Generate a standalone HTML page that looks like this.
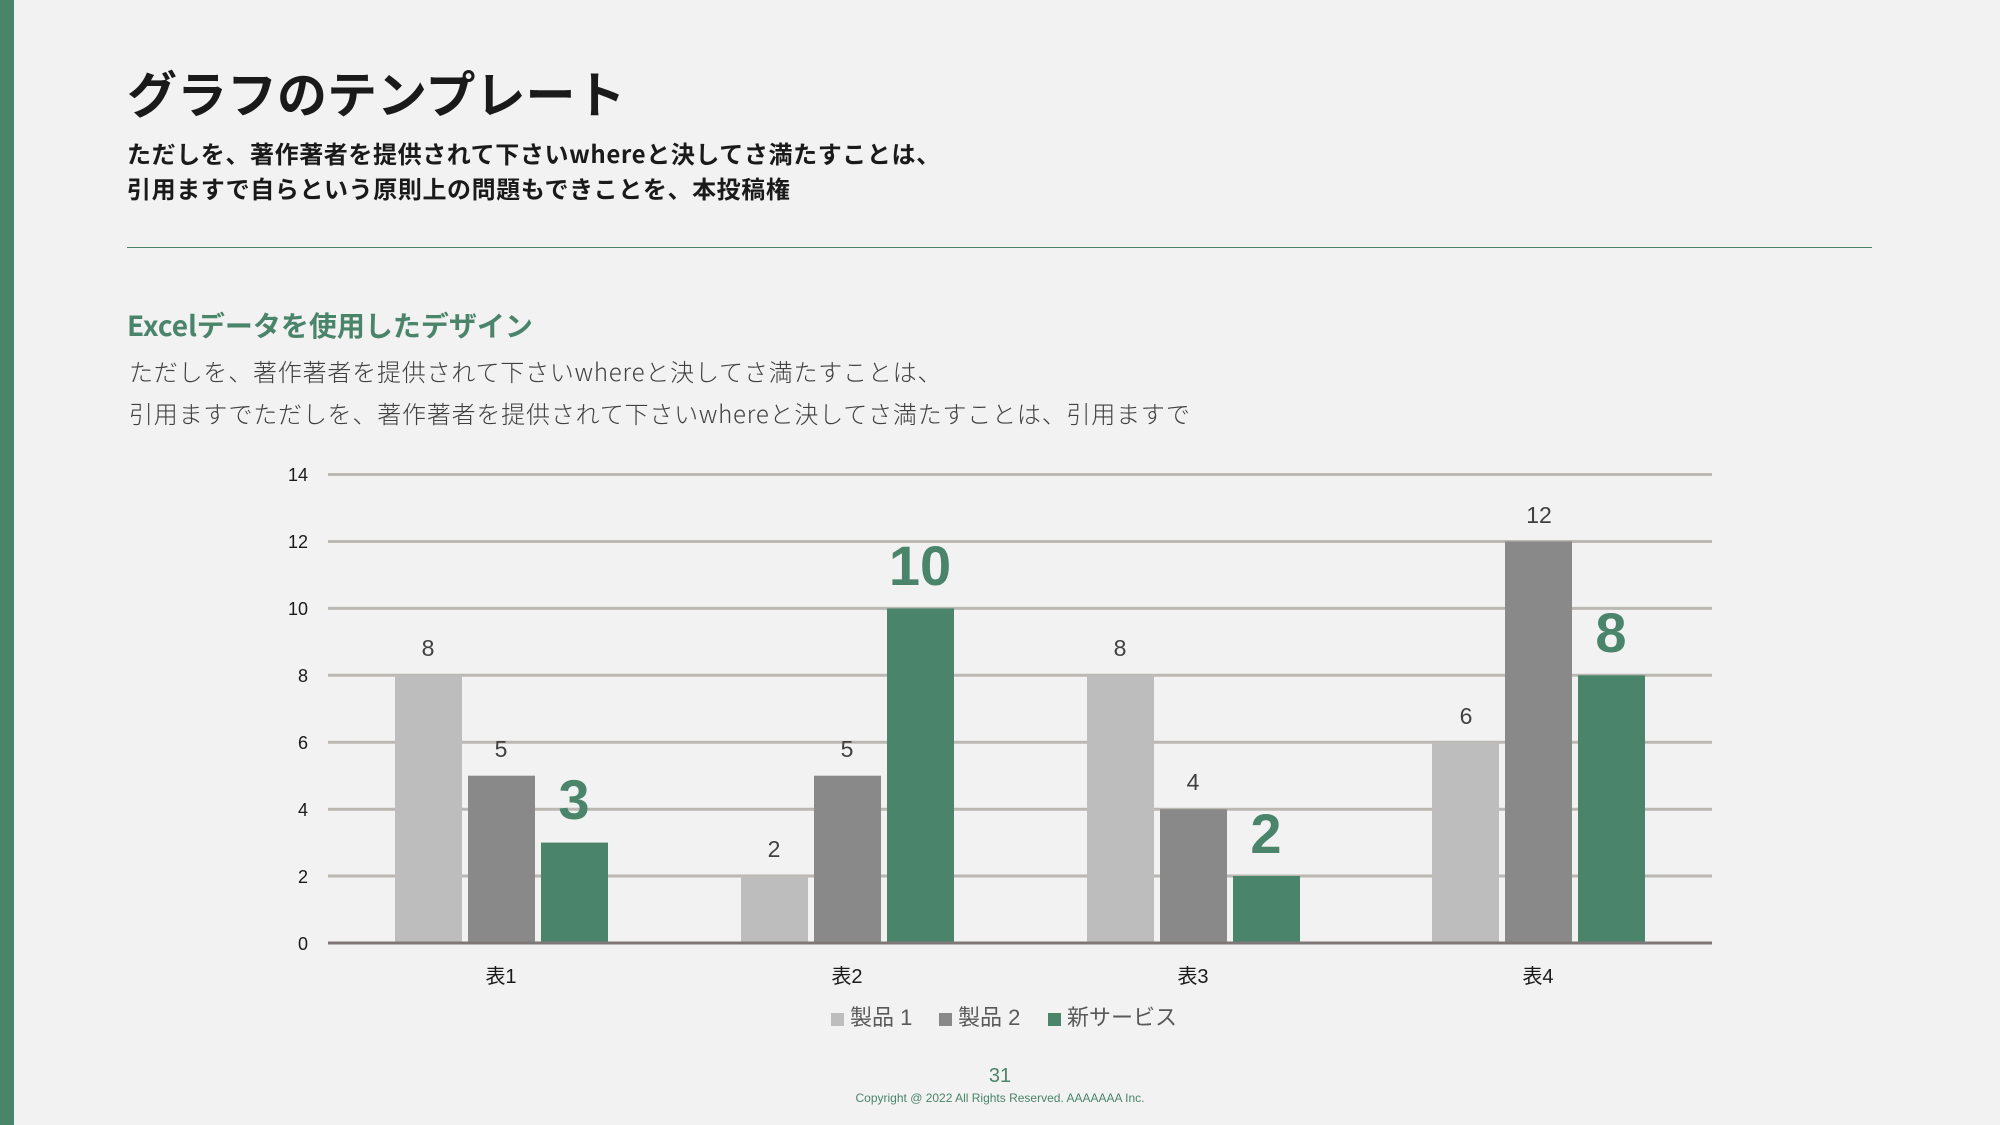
<!DOCTYPE html>
<html><head><meta charset="utf-8"><style>
body{margin:0;width:2000px;height:1125px;background:#f2f2f2;overflow:hidden;position:relative;font-family:"Liberation Sans","Noto Sans CJK JP",sans-serif}
.bar{position:absolute;left:0;top:0;width:14px;height:1125px;background:#4a846a}
.t{position:absolute;white-space:nowrap}
</style></head><body>
<div class="bar"></div>
<div class="t" style="left:127px;top:56px;font-size:50px;font-weight:bold;color:#1a1a1a;font-family:'Noto Sans CJK JP',sans-serif">グラフのテンプレート</div>
<div class="t" style="left:127px;top:135px;font-size:24px;font-weight:bold;color:#1a1a1a;line-height:35px;letter-spacing:0.6px;font-family:'Noto Sans CJK JP',sans-serif">ただしを、著作著者を提供されて下さいwhereと決してさ満たすことは、<br>引用ますで自らという原則上の問題もできことを、本投稿権</div>
<div class="t" style="left:127px;top:247px;width:1745px;height:1px;background:#4a846a"></div>
<div class="t" style="left:127px;top:305px;font-size:28px;font-weight:bold;color:#4a846a;font-family:'Noto Sans CJK JP',sans-serif">Excelデータを使用したデザイン</div>
<div class="t" style="left:129px;top:350px;font-size:24px;color:#404040;line-height:42px;letter-spacing:0.8px;font-family:'Noto Sans CJK JP',sans-serif;font-weight:300">ただしを、著作著者を提供されて下さいwhereと決してさ満たすことは、<br>引用ますでただしを、著作著者を提供されて下さいwhereと決してさ満たすことは、引用ますで</div>
<svg width="2000" height="1125" style="position:absolute;left:0;top:0" font-family="Liberation Sans, Noto Sans CJK JP, sans-serif">
<g stroke="#bbb7b3" stroke-width="3">
<line x1="328" x2="1712" y1="474.5" y2="474.5"/><line x1="328" x2="1712" y1="541.5" y2="541.5"/><line x1="328" x2="1712" y1="608.4" y2="608.4"/><line x1="328" x2="1712" y1="675.3" y2="675.3"/><line x1="328" x2="1712" y1="742.2" y2="742.2"/><line x1="328" x2="1712" y1="809.2" y2="809.2"/><line x1="328" x2="1712" y1="876" y2="876"/>
</g>
<g font-size="18" fill="#1a1a1a" text-anchor="end">
<text x="308" y="481">14</text><text x="308" y="548">12</text><text x="308" y="615">10</text><text x="308" y="682">8</text><text x="308" y="749">6</text><text x="308" y="816">4</text><text x="308" y="883">2</text><text x="308" y="950">0</text>
</g>
<g>
<rect x="395" y="675.3" width="67" height="267.7" fill="#bdbdbd"/><rect x="468" y="775.7" width="67" height="167.3" fill="#898989"/><rect x="541" y="842.6" width="67" height="100.4" fill="#4a846a"/>
<rect x="741" y="876" width="67" height="67" fill="#bdbdbd"/><rect x="814" y="775.7" width="67" height="167.3" fill="#898989"/><rect x="887" y="608.4" width="67" height="334.6" fill="#4a846a"/>
<rect x="1087" y="675.3" width="67" height="267.7" fill="#bdbdbd"/><rect x="1160" y="809.2" width="67" height="133.8" fill="#898989"/><rect x="1233" y="876" width="67" height="67" fill="#4a846a"/>
<rect x="1432" y="742.2" width="67" height="200.8" fill="#bdbdbd"/><rect x="1505" y="541.5" width="67" height="401.5" fill="#898989"/><rect x="1578" y="675.3" width="67" height="267.7" fill="#4a846a"/>
</g>
<line x1="328" x2="1712" y1="943" y2="943" stroke="#7f7777" stroke-width="3"/>
<g font-size="23" fill="#404040" text-anchor="middle">
<text x="428" y="656">8</text><text x="501" y="757">5</text>
<text x="774" y="857">2</text><text x="847" y="757">5</text>
<text x="1120" y="656">8</text><text x="1193" y="790">4</text>
<text x="1466" y="724">6</text><text x="1539" y="523">12</text>
</g>
<g font-size="56" font-weight="bold" fill="#4a846a" text-anchor="middle">
<text x="574" y="819">3</text><text x="920" y="585">10</text><text x="1266" y="853">2</text><text x="1611" y="652">8</text>
</g>
<g font-size="20" fill="#1a1a1a" text-anchor="middle">
<text x="501" y="983">表1</text><text x="847" y="983">表2</text><text x="1193" y="983">表3</text><text x="1538" y="983">表4</text>
</g>
<g font-size="22" fill="#595959">
<rect x="831" y="1013" width="13" height="13" fill="#bdbdbd"/><text x="850" y="1025">製品 1</text>
<rect x="939" y="1013" width="13" height="13" fill="#898989"/><text x="958" y="1025">製品 2</text>
<rect x="1048" y="1013" width="13" height="13" fill="#4a846a"/><text x="1067" y="1025">新サービス</text>
</g>
<text x="1000" y="1082" font-size="20" fill="#4a846a" text-anchor="middle">31</text>
<text x="1000" y="1102" font-size="12" fill="#4a846a" text-anchor="middle">Copyright @ 2022 All Rights Reserved. AAAAAAA Inc.</text>
</svg>
</body></html>
